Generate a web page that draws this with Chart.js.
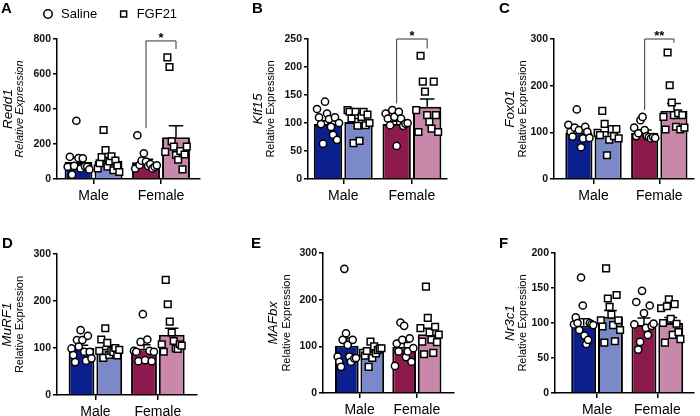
<!DOCTYPE html>
<html>
<head>
<meta charset="utf-8">
<script src="https://cdn.jsdelivr.net/npm/chart.js@4.4.1/dist/chart.umd.min.js"></script>
<style>
  html, body { margin: 0; padding: 0; background: #fff; }
  #wrap { position: relative; width: 700px; height: 416px; overflow: hidden; }
  #wrap canvas { position: absolute; }
</style>
</head>
<body>
<div id="wrap"></div>
<script>
const groups = ['Male', 'Female'];
const treatments = ['Saline', 'FGF21'];
// bar order: male saline, male FGF21, female saline, female FGF21

const redd1Mean = [97, 104, 96, 238];
const redd1Sem = [25, 20, 17, 67];
const redd1Pts = [
    [70, 127, 25, 75, 333, 120, 60, 118, 72, 70, 55],
    [60, 90, 125, 280, 165, 70, 100, 130, 50, 105, 75, 40],
    [60, 250, 80, 105, 147, 100, 75, 85, 60, 70, 78],
    [155, 695, 640, 215, 185, 137, 110, 160, 55, 140, 185]
];

const klf15Mean = [98, 102, 98, 129];
const klf15Sem = [6, 6, 5, 14];
const klf15Pts = [
    [125, 110, 98, 63, 138, 117, 107, 93, 79, 110, 70, 100],
    [123, 120, 108, 64, 120, 95, 68, 111, 120, 96, 115, 100],
    [117, 108, 96, 123, 111, 59, 120, 108, 95, 99, 100],
    [123, 84, 220, 174, 156, 114, 102, 90, 174, 114, 84]
];

const fox01Mean = [99, 93, 99, 146];
const fox01Sem = [6, 8, 6, 16];
const fox01Pts = [
    [116, 101, 91, 110, 149, 105, 68, 87, 112, 101, 88],
    [99, 94, 146, 118, 51, 84, 107, 92, 107, 87],
    [110, 92, 98, 126, 133, 105, 92, 90, 87, 90, 88],
    [133, 106, 271, 201, 164, 137, 112, 141, 106, 137, 110]
];

const murf1Mean = [100, 99, 99, 128];
const murf1Sem = [6, 5, 8, 14];
const murf1Pts = [
    [99, 85, 70, 117, 103, 138, 117, 92, 73, 126, 92, 78],
    [94, 118, 79, 142, 111, 85, 94, 91, 100, 84, 96],
    [94, 92, 72, 113, 172, 74, 118, 94, 72, 92],
    [108, 92, 245, 193, 156, 133, 115, 99, 98, 108, 105]
];

const mafbxMean = [101, 90, 99, 126];
const mafbxSem = [17, 5, 9, 13];
const mafbxPts = [
    [78, 67, 56, 114, 266, 128, 103, 78, 67, 114, 74, 75],
    [86, 80, 90, 56, 110, 75, 100, 85, 92, 95, 96],
    [58, 106, 89, 151, 114, 144, 77, 89, 117, 67, 96],
    [139, 110, 83, 228, 161, 130, 114, 86, 142, 109, 125]
];

const nr3c1Mean = [96, 109, 97, 100];
const nr3c1Sem = [10, 9, 10, 8];
const nr3c1Pts = [
    [98, 108, 100, 90, 165, 125, 82, 70, 76, 100, 98, 97],
    [104, 95, 72, 178, 135, 123, 112, 97, 74, 140, 104, 90],
    [98, 130, 62, 73, 146, 114, 93, 83, 125, 96, 99],
    [121, 100, 72, 124, 134, 106, 83, 127, 99, 87, 77]
];

const FONT = '"Liberation Sans", Arial, Helvetica, sans-serif';
const BAR_COLORS = ['#0c1f8e', '#7c89c9', '#8c1a4d', '#c987a9'];
const SLOTS = [0, 1, 2.25, 3.25];
const GROUP_POS = [0.5, 2.75];
const SPREAD = 0.36;

Chart.defaults.font.family = FONT;
Chart.defaults.color = '#000';

// box = canvas [left, top, w, h], area = chart area inside canvas [l, t, r, b]
const panels = [
    { letter: 'A', gene: 'Redd1', allItalic: true, mean: redd1Mean, sem: redd1Sem, pts: redd1Pts,
      yMax: 800, yStep: 200, box: [0, 0, 230, 208], area: [57, 39, 200, 179], xMin: -0.717, xMax: 4.05,
      letterAt: [1, 13], geneX: 8, titleX: 20, legend: true,
      sig: { text: '*', top: 789, left: 290, right: 743 } },
    { letter: 'B', gene: 'Klf15', mean: klf15Mean, sem: klf15Sem, pts: klf15Pts,
      yMax: 250, yStep: 50, box: [230, 0, 230, 208], area: [78, 39, 217, 179], xMin: -0.656, xMax: 3.90,
      letterAt: [22, 13], geneX: 28, titleX: 41,
      sig: { text: '*', top: 250, left: 135, right: 233 } },
    { letter: 'C', gene: 'Fox01', mean: fox01Mean, sem: fox01Sem, pts: fox01Pts,
      yMax: 300, yStep: 100, box: [460, 0, 240, 208], area: [94, 39, 240, 179], xMin: -0.852, xMax: 3.93,
      letterAt: [39, 13], geneX: 50, titleX: 63,
      sig: { text: '**', top: 300, left: 148, right: 292 } },
    { letter: 'D', gene: 'MuRF1', mean: murf1Mean, sem: murf1Sem, pts: murf1Pts,
      yMax: 300, yStep: 100, box: [0, 208, 230, 208], area: [57, 46, 197, 187], xMin: -0.883, xMax: 4.16,
      letterAt: [2, 40], geneX: 7, titleX: 20 },
    { letter: 'E', gene: 'MAFbx', mean: mafbxMean, sem: mafbxSem, pts: mafbxPts,
      yMax: 300, yStep: 100, box: [230, 208, 230, 208], area: [93, 45, 233, 185], xMin: -0.936, xMax: 4.20,
      letterAt: [21, 40], geneX: 43, titleX: 57 },
    { letter: 'F', gene: 'Nr3c1', mean: nr3c1Mean, sem: nr3c1Sem, pts: nr3c1Pts,
      yMax: 200, yStep: 50, box: [460, 208, 240, 208], area: [95, 45, 240, 185], xMin: -1.07, xMax: 4.11,
      letterAt: [39, 40], geneX: 50, titleX: 63 }
];

function pointsFor(pts, idx) {
    return idx.flatMap(g => pts[g].map((v, i, arr) => ({
        x: SLOTS[g] + (arr.length > 1 ? -SPREAD + 2 * SPREAD * i / (arr.length - 1) : 0),
        y: v
    })));
}

function makeDecor(p) {
    return {
        id: 'decor',
        beforeLayout(chart) {
            // legend: one row, and tall enough that the plot starts where it should
            const lg = chart.legend;
            if (p.legend && lg && !lg._fixed) {
                const fit = lg.fit;
                lg.fit = function () {
                    this.maxWidth += 80;
                    fit.call(this);
                    this.height = p.area[1] - p.padTop;
                };
                lg._fixed = true;
            }
        },
        afterDatasetDraw(chart, args) {
            if (args.index !== 0) return;
            const { ctx, scales: { x, y } } = chart;
            ctx.save();
            ctx.strokeStyle = '#000';
            ctx.lineWidth = 1.5;
            p.mean.forEach((m, i) => {
                const px = x.getPixelForValue(SLOTS[i]);
                const a = x.getPixelForValue(SLOTS[i] - 0.24), b = x.getPixelForValue(SLOTS[i] + 0.24);
                const y0 = y.getPixelForValue(m), y1 = y.getPixelForValue(m + p.sem[i]);
                ctx.beginPath();
                ctx.moveTo(px, y0); ctx.lineTo(px, y1);
                ctx.moveTo(a, y1); ctx.lineTo(b, y1);
                ctx.stroke();
            });
            ctx.restore();
        },
        afterDraw(chart) {
            const { ctx, chartArea, scales: { x, y } } = chart;
            const cy = (chartArea.top + chartArea.bottom) / 2;
            ctx.save();
            ctx.fillStyle = '#000';
            ctx.font = 'bold 15px ' + FONT;
            ctx.textAlign = 'left';
            ctx.textBaseline = 'alphabetic';
            ctx.fillText(p.letter, p.letterAt[0], p.letterAt[1]);

            ctx.textAlign = 'center';
            ctx.textBaseline = 'middle';
            ctx.save();
            ctx.translate(p.geneX, cy);
            ctx.rotate(-Math.PI / 2);
            ctx.font = 'italic 13.5px ' + FONT;
            ctx.fillText(p.gene, 0, 0);
            ctx.restore();
            ctx.save();
            ctx.translate(p.titleX, cy);
            ctx.rotate(-Math.PI / 2);
            ctx.font = (p.allItalic ? 'italic ' : '') + '11px ' + FONT;
            ctx.fillText('Relative Expression', 0, 0);
            ctx.restore();

            if (p.sig) {
                const s = p.sig;
                const xl = x.getPixelForValue(SLOTS[2]), xr = x.getPixelForValue(SLOTS[3]);
                const yt = y.getPixelForValue(s.top);
                ctx.strokeStyle = '#333';
                ctx.lineWidth = 1;
                ctx.beginPath();
                ctx.moveTo(xl, y.getPixelForValue(s.left));
                ctx.lineTo(xl, yt);
                ctx.lineTo(xr, yt);
                ctx.lineTo(xr, y.getPixelForValue(s.right));
                ctx.stroke();
                ctx.font = 'bold 13px ' + FONT;
                ctx.textBaseline = 'alphabetic';
                ctx.fillText(s.text, (xl + xr) / 2, yt + 1);
            }
            ctx.restore();
        }
    };
}

const wrap = document.getElementById('wrap');

panels.forEach(p => {
    const [bl, bt, bw, bh] = p.box;
    const [al, at, ar, ab] = p.area;
    const canvas = document.createElement('canvas');
    canvas.width = bw;
    canvas.height = bh;
    canvas.style.left = bl + 'px';
    canvas.style.top = bt + 'px';
    canvas.style.width = bw + 'px';
    canvas.style.height = bh + 'px';
    wrap.appendChild(canvas);

    p.padTop = p.legend ? -12.5 : at;
    const padLeft = p.legend ? 21.5 : 0;

    new Chart(canvas, {
        type: 'bar',
        data: {
            datasets: [{
                type: 'bar',
                label: 'Mean',
                data: p.mean.map((m, i) => ({ x: SLOTS[i], y: m })),
                backgroundColor: BAR_COLORS,
                borderColor: '#000',
                borderWidth: 2,
                barPercentage: 0.93,
                categoryPercentage: 1,
                order: 3
            },
            {
                type: 'scatter',
                label: treatments[0],
                data: pointsFor(p.pts, [0, 2]),
                pointStyle: 'circle',
                pointRadius: 3.6,
                backgroundColor: '#fff',
                borderColor: '#000',
                borderWidth: 1.5,
                order: 1
            },
            {
                type: 'scatter',
                label: treatments[1],
                data: pointsFor(p.pts, [1, 3]),
                pointStyle: 'rect',
                pointRadius: 4.7,
                backgroundColor: '#fff',
                borderColor: '#000',
                borderWidth: 1.5,
                order: 1
            }]
        },
        options: {
            responsive: false,
            animation: false,
            devicePixelRatio: 1,
            layout: {
                padding: { left: padLeft, top: p.padTop, right: bw - ar, bottom: 0 }
            },
            scales: {
                x: {
                    type: 'linear',
                    min: p.xMin,
                    max: p.xMax,
                    offset: false,
                    afterFit: s => { s.height = bh - ab; },
                    afterBuildTicks: s => { s.ticks = GROUP_POS.map(v => ({ value: v })); },
                    ticks: {
                        callback: v => (v < 1.5 ? groups[0] : groups[1]),
                        font: { size: 14 },
                        color: '#000',
                        padding: 4,
                        maxRotation: 0,
                        autoSkip: false
                    },
                    grid: { offset: false, drawOnChartArea: false, tickLength: 5, color: '#000', lineWidth: 1.5 },
                    border: { color: '#000', width: 1.5 }
                },
                y: {
                    min: 0,
                    max: p.yMax,
                    afterFit: s => { s.width = al - padLeft; },
                    ticks: {
                        stepSize: p.yStep,
                        font: { size: 10.5, weight: 'bold' },
                        color: '#111',
                        padding: 2
                    },
                    grid: { drawOnChartArea: false, tickLength: 4, color: '#000', lineWidth: 1.5 },
                    border: { color: '#000', width: 1.5 }
                }
            },
            plugins: {
                legend: {
                    display: !!p.legend,
                    position: 'top',
                    align: 'start',
                    labels: {
                        usePointStyle: true,
                        boxHeight: 6,
                        padding: 20,
                        color: '#000',
                        font: { size: 13 },
                        filter: item => item.datasetIndex > 0
                    }
                },
                tooltip: { enabled: false }
            }
        },
        plugins: [makeDecor(p)]
    });
});
</script>
</body>
</html>
